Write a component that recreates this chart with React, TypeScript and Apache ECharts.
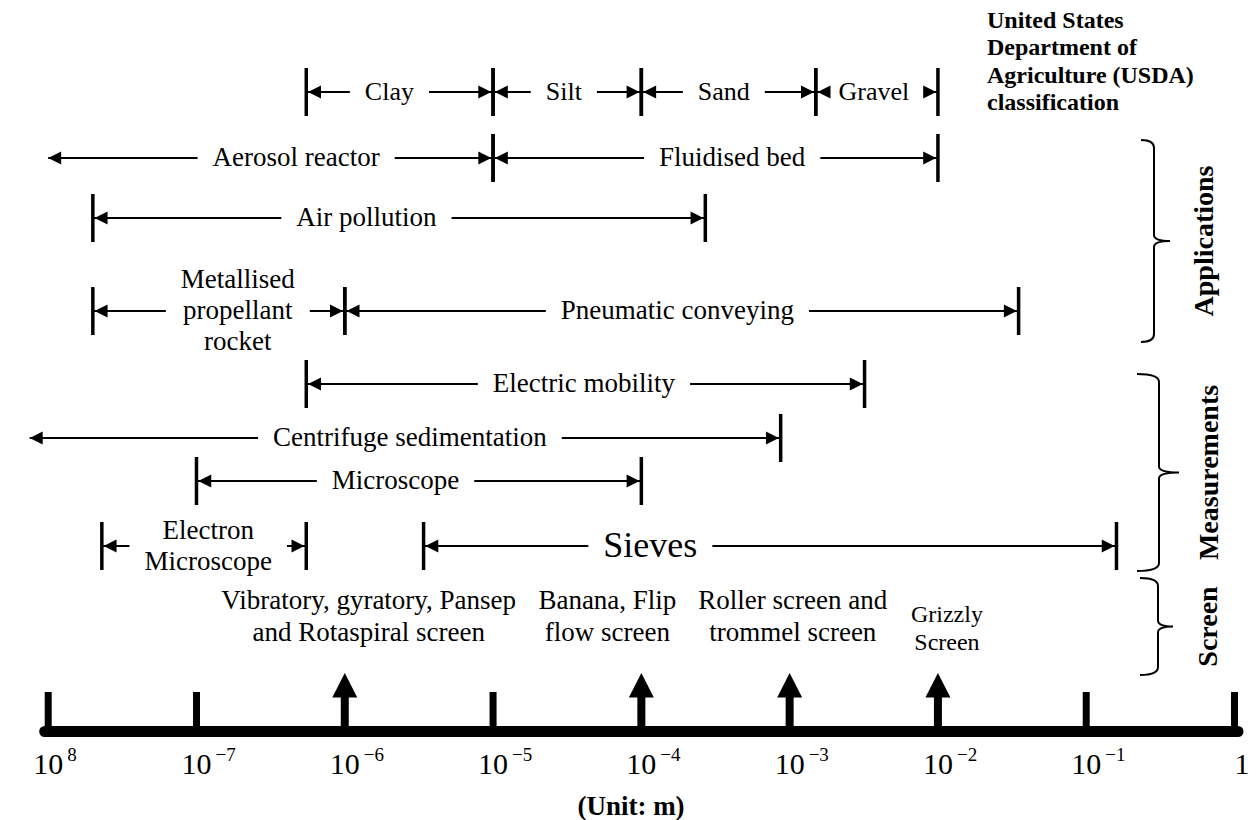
import React, { useEffect, useRef } from "react";
import * as echarts from "echarts";

const SERIF = '"Liberation Serif", "Times New Roman", Times, serif';

// Marks along the size axis (powers of ten, metres)
const axisPowers = [-8, -7, -6, -5, -4, -3, -2, -1, 0];
const axisSuperscripts = ["8", "\u22127", "\u22126", "\u22125", "\u22124", "\u22123", "\u22122", "\u22121", ""];
const axisMarkKinds = ["tick", "tick", "arrow", "tick", "arrow", "arrow", "arrow", "tick", "tick"];

// Size ranges: [label, lower bound (m), upper bound (m), label anchor (m), lane, open lower end]
type Range = [string, number, number, number, number, boolean];

const usdaRanges: Range[] = [
  ["Clay", 5.5e-7, 1e-5, 2.0e-6, 0, false],
  ["Silt", 1e-5, 1e-4, 3.0e-5, 0, false],
  ["Sand", 1e-4, 1.5e-3, 3.6e-4, 0, false],
  ["Gravel", 1.5e-3, 1e-2, 3.7e-3, 0, false],
];

const applicationRanges: Range[] = [
  ["Aerosol reactor", 1e-8, 1e-5, 4.7e-7, 1, true],
  ["Fluidised bed", 1e-5, 1e-2, 4.1e-4, 1, false],
  ["Air pollution", 2e-8, 2.7e-4, 1.4e-6, 2, false],
  ["Metallised\npropellant\nrocket", 2e-8, 1e-6, 1.9e-7, 3, false],
  ["Pneumatic conveying", 1e-6, 3.5e-2, 1.75e-4, 3, false],
];

const measurementRanges: Range[] = [
  ["Electric mobility", 5.5e-7, 3.2e-3, 4.1e-5, 4, false],
  ["Centrifuge sedimentation", 7.5e-9, 8.7e-4, 2.75e-6, 5, true],
  ["Microscope", 1e-7, 1e-4, 2.2e-6, 6, false],
  ["Electron\nMicroscope", 2.3e-8, 5.5e-7, 1.2e-7, 7, false],
  ["Sieves", 3.4e-6, 1.6e-1, 1.15e-4, 7, false],
];

// Screening equipment: [label, anchor (m), lane]
const screenTypes: [string, number, number][] = [
  ["Vibratory, gyratory, Pansep\nand Rotaspiral screen", 1.45e-6, 8],
  ["Banana, Flip\nflow screen", 5.9e-5, 8],
  ["Roller screen and\ntrommel screen", 1.05e-3, 8],
  ["Grizzly\nScreen", 1.15e-2, 9],
];

const groupNames = ["Applications", "Measurements", "Screen"];
const usdaTitle = "United States\nDepartment of\nAgriculture (USDA)\nclassification";
const unitTitle = "(Unit: m)";

// Vertical layout: lane centres in y-axis units (top to bottom)
const laneY = [92, 158, 218, 311, 384, 438, 481, 546, 616, 628];
const AXIS_Y = 731.5;

// Curly braces grouping the rows on the right
const braceLayout = [
  { top: 140, bottom: 342, x: 1154, hook: 13, tip: 16, labelX: 1203 },
  { top: 374, bottom: 571, x: 1159, hook: 22, tip: 20, labelX: 1208 },
  { top: 578, bottom: 675, x: 1158, hook: 18, tip: 15, labelX: 1207 },
];

braceLayout.forEach((b, i) => {
  const mid = (b.top + b.bottom) / 2;
  const r = 8;
  const d =
    `M ${b.x - b.hook} ${b.top} Q ${b.x} ${b.top} ${b.x} ${b.top + r} ` +
    `L ${b.x} ${mid - 6} Q ${b.x} ${mid} ${b.x + b.tip} ${mid} ` +
    `Q ${b.x} ${mid} ${b.x} ${mid + 6} L ${b.x} ${b.bottom - r} ` +
    `Q ${b.x} ${b.bottom} ${b.x - b.hook} ${b.bottom}`;
  echarts.graphic.registerShape("groupBrace" + i, echarts.graphic.extendPath(d, {}));
});

const allRanges: Range[] = [...usdaRanges, ...applicationRanges, ...measurementRanges];

export default function App() {
  const ref = useRef<HTMLDivElement>(null);

  useEffect(() => {
    if (!ref.current) return;
    const chart = echarts.init(ref.current, null, { renderer: "svg" });

    const rangeData = allRanges.map((r, i) => [
      Math.log10(r[1]),
      Math.log10(r[2]),
      laneY[r[4]],
      Math.log10(r[3]),
      r[5] ? 1 : 0,
      i,
    ]);
    const axisData = axisPowers.map((p, i) => [p, i]);
    const screenData = screenTypes.map((s, i) => [Math.log10(s[1]), laneY[s[2]], i]);

    const braceGraphics: any[] = [];
    braceLayout.forEach((b, i) => {
      braceGraphics.push({
        type: "groupBrace" + i,
        style: { stroke: "#000", lineWidth: 2, fill: "none" },
      });
      braceGraphics.push({
        type: "text",
        x: b.labelX,
        y: (b.top + b.bottom) / 2,
        rotation: Math.PI / 2,
        style: {
          text: groupNames[i],
          fontFamily: SERIF,
          fontSize: 28,
          fontWeight: "bold",
          fill: "#000",
          align: "center",
          verticalAlign: "middle",
        },
      });
    });

    chart.setOption({
      animation: false,
      backgroundColor: "#fff",
      grid: { left: 44.7, right: 22, top: 0, bottom: 820 - AXIS_Y },
      xAxis: {
        type: "value",
        min: -8.0236,
        max: 0.0236,
        axisLine: { show: true, onZero: false, lineStyle: { color: "#000", width: 11 } },
        axisTick: { show: false },
        axisLabel: { show: false },
        splitLine: { show: false },
      },
      yAxis: {
        type: "value",
        min: 0,
        max: AXIS_Y,
        inverse: true,
        show: false,
        splitLine: { show: false },
      },
      graphic: [
        {
          type: "text",
          left: 987,
          top: 6,
          style: {
            text: usdaTitle,
            fontFamily: SERIF,
            fontSize: 24,
            fontWeight: "bold",
            lineHeight: 27.5,
            fill: "#000",
          },
        },
        {
          type: "text",
          x: 631,
          y: 806,
          style: {
            text: unitTitle,
            fontFamily: SERIF,
            fontSize: 27,
            fontWeight: "bold",
            fill: "#000",
            align: "center",
            verticalAlign: "middle",
          },
        },
        ...braceGraphics,
      ],
      series: [
        {
          type: "custom",
          name: "ranges",
          clip: false,
          data: rangeData,
          renderItem: (params: any, api: any) => {
            const i = api.value(5);
            const r = allRanges[i];
            const lane = api.value(2);
            const [x1, y] = api.coord([api.value(0), lane]);
            const [x2] = api.coord([api.value(1), lane]);
            const [xl] = api.coord([api.value(3), lane]);
            const openLeft = api.value(4) === 1;
            const isUsda = i < usdaRanges.length;
            const fs = r[0] === "Sieves" ? 36 : isUsda ? 26 : 27;
            const head = 13;
            const half = 6.5;
            const bw = 3.5;
            const lt = x1 + (openLeft ? 0 : bw / 2);
            const rt = x2 - bw / 2;
            const children: any[] = [
              {
                type: "line",
                shape: { x1, y1: y, x2, y2: y },
                style: { stroke: "#000", lineWidth: 2 },
              },
              {
                type: "text",
                x: xl,
                y: y - 1,
                style: {
                  text: r[0],
                  fontFamily: SERIF,
                  fontSize: fs,
                  fill: "#000",
                  align: "center",
                  verticalAlign: "middle",
                  lineHeight: 31,
                  backgroundColor: "#fff",
                  padding: [0, 15],
                },
              },
              {
                type: "polygon",
                shape: { points: [[lt, y], [lt + head, y - half], [lt + head, y + half]] },
                style: { fill: "#000" },
              },
              {
                type: "polygon",
                shape: { points: [[rt, y], [rt - head, y - half], [rt - head, y + half]] },
                style: { fill: "#000" },
              },
              {
                type: "rect",
                shape: { x: x2 - bw / 2, y: y - 24, width: bw, height: 48 },
                style: { fill: "#000" },
              },
            ];
            if (!openLeft) {
              children.push({
                type: "rect",
                shape: { x: x1 - bw / 2, y: y - 24, width: bw, height: 48 },
                style: { fill: "#000" },
              });
            }
            return { type: "group", children };
          },
        },
        {
          type: "custom",
          name: "scale",
          clip: false,
          data: axisData,
          renderItem: (params: any, api: any) => {
            const i = api.value(1);
            const [x, yb] = api.coord([api.value(0), AXIS_Y]);
            const children: any[] = [];
            if (axisMarkKinds[i] === "tick") {
              children.push({
                type: "rect",
                shape: { x: x - 3.5, y: yb - 39.5, width: 7, height: 40 },
                style: { fill: "#000" },
              });
            } else {
              children.push({
                type: "rect",
                shape: { x: x - 4, y: yb - 35, width: 8, height: 35 },
                style: { fill: "#000" },
              });
              children.push({
                type: "polygon",
                shape: { points: [[x - 12.5, yb - 34], [x + 12.5, yb - 34], [x, yb - 58.5]] },
                style: { fill: "#000" },
              });
            }
            const isOne = axisPowers[i] === 0;
            children.push({
              type: "text",
              x,
              y: yb + 31.5,
              style: {
                text: isOne ? "1" : "10",
                fontFamily: SERIF,
                fontSize: 30,
                fill: "#000",
                align: isOne ? "left" : "center",
                verticalAlign: "middle",
              },
            });
            if (axisSuperscripts[i]) {
              children.push({
                type: "text",
                x: x + 19,
                y: yb + 22.5,
                style: {
                  text: axisSuperscripts[i],
                  fontFamily: SERIF,
                  fontSize: 19,
                  fill: "#000",
                  align: "left",
                  verticalAlign: "middle",
                },
              });
            }
            return { type: "group", children };
          },
        },
        {
          type: "custom",
          name: "screens",
          clip: false,
          data: screenData,
          renderItem: (params: any, api: any) => {
            const i = api.value(2);
            const [x, y] = api.coord([api.value(0), api.value(1)]);
            const small = screenTypes[i][2] === 9;
            return {
              type: "text",
              x,
              y,
              style: {
                text: screenTypes[i][0],
                fontFamily: SERIF,
                fontSize: small ? 24 : 27,
                lineHeight: small ? 28 : 32,
                fill: "#000",
                align: "center",
                verticalAlign: "middle",
              },
            };
          },
        },
      ],
    });

    return () => chart.dispose();
  }, []);

  return (
    <div
      ref={ref}
      style={{ position: "absolute", left: 0, top: 0, width: 1260, height: 820, background: "#fff" }}
    />
  );
}
